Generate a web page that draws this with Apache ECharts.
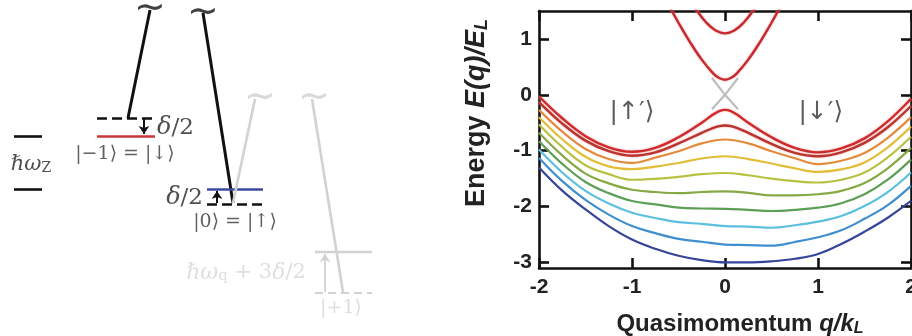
<!DOCTYPE html>
<html><head><meta charset="utf-8">
<script src="https://cdn.jsdelivr.net/npm/echarts@6/dist/echarts.min.js"></script>
<style>html,body{margin:0;padding:0;background:#fff}#c{width:912px;height:336px}</style>
</head><body><div id="c"></div>
<script>
// ---------- band-structure data (q in k_L, E in E_L) ----------
const qFine   = [-2,-1.75,-1.5,-1.25,-1,-0.75,-0.5,-0.25,-0.125,-0.0625,0,0.0625,0.125,0.25,0.5,0.75,1,1.25,1.5,1.75,2];
const qCoarse = [-2,-1.75,-1.5,-1.25,-1,-0.75,-0.5,-0.25,0,0.25,0.5,0.75,1,1.25,1.5,1.75,2];
const band0 = [-0.03,-0.42,-0.74,-0.94,-1.02,-0.95,-0.76,-0.50,-0.35,-0.29,-0.27,-0.29,-0.35,-0.50,-0.76,-0.95,-1.03,-0.96,-0.78,-0.475,-0.07];
const band1 = [-0.13,-0.515,-0.82,-1.01,-1.09,-1.03,-0.87,-0.68,-0.59,-0.56,-0.55,-0.56,-0.59,-0.68,-0.88,-1.04,-1.10,-1.03,-0.86,-0.58,-0.20];
const band2 = [-0.27,-0.66,-0.97,-1.15,-1.22,-1.125,-1.01,-0.87,-0.80,-0.87,-1.01,-1.135,-1.24,-1.18,-1.04,-0.77,-0.40];
const band3 = [-0.40,-0.795,-1.11,-1.28,-1.33,-1.285,-1.22,-1.14,-1.10,-1.15,-1.23,-1.315,-1.38,-1.335,-1.21,-0.94,-0.57];
const band4 = [-0.53,-0.935,-1.26,-1.42,-1.52,-1.505,-1.47,-1.42,-1.40,-1.44,-1.50,-1.545,-1.57,-1.52,-1.39,-1.12,-0.75];
const band5 = [-0.68,-1.085,-1.41,-1.585,-1.70,-1.74,-1.76,-1.74,-1.73,-1.755,-1.80,-1.80,-1.78,-1.72,-1.58,-1.315,-0.95];
const band6 = [-0.83,-1.235,-1.56,-1.76,-1.90,-1.96,-2.02,-2.035,-2.04,-2.06,-2.08,-2.06,-2.02,-1.94,-1.78,-1.52,-1.16];
const band7 = [-0.98,-1.39,-1.72,-1.945,-2.11,-2.205,-2.28,-2.31,-2.35,-2.36,-2.38,-2.335,-2.27,-2.17,-1.99,-1.74,-1.39];
const band8 = [-1.13,-1.545,-1.88,-2.145,-2.35,-2.475,-2.58,-2.63,-2.68,-2.69,-2.70,-2.635,-2.55,-2.425,-2.22,-1.975,-1.63];
const band9 = [-1.30,-1.715,-2.05,-2.35,-2.59,-2.755,-2.88,-2.96,-3.00,-3.00,-2.98,-2.935,-2.85,-2.67,-2.45,-2.20,-1.90];
const upperQ1 = [-0.6,-0.5,-0.375,-0.25,-0.125,-0.0625,0,0.0625,0.125,0.25,0.375,0.5,0.6];
const upperE1 = [1.59,1.29,0.94,0.63,0.38,0.30,0.27,0.30,0.38,0.63,0.94,1.29,1.59];
const upperQ2 = [-0.36,-0.3,-0.2,-0.1,0,0.1,0.2,0.3,0.36];
const upperE2 = [1.67,1.50,1.29,1.15,1.10,1.15,1.29,1.50,1.67];
const crossQ  = [-0.14,0,0.14];
const crossE1 = [-0.26,0,0.30];
const crossE2 = [0.30,0,-0.26];
const xTicks = [-2,-1,0,1,2];
const yTicks = [-3,-2,-1,0,1];
const stateLabels = [['|↑′⟩',-1.0,-0.32],['|↓′⟩',1.03,-0.32]];

// ---------- level-diagram data (diagram units) ----------
const zeemanBars   = [[1.4,13.6,4.2,13.6],[1.4,18.9,4.2,18.9]];
const blackBeams   = [[15.0,1.0,12.8,11.8],[20.3,1.3,23.3,20.3]];
const redLevel     = [[9.7,13.6,15.5,13.6]];
const blueLevel    = [[20.7,18.9,26.3,18.9]];
const blackDashed  = [[9.7,11.8,15.5,11.8],[20.7,20.4,26.3,20.4]];
const blackArrows  = [[14.4,11.9,14.4,13.4],[21.7,20.3,21.7,19.1]];
const grayBeams    = [[25.5,9.9,23.3,20.3],[31.2,9.9,34.3,29.2]];
const grayLevel    = [[31.5,25.2,37.2,25.2]];
const grayDashed   = [[31.5,29.3,37.2,29.3]];
const grayArrows   = [[32.5,29.2,32.5,25.4]];
const blackTildes  = [[15.0,0.9],[20.3,1.3]];
const grayTildes   = [[26.0,9.8],[31.4,9.8]];

const bands = [band0,band1,band2,band3,band4,band5,band6,band7,band8,band9];
const bandColors = ['#cf2a2c','#b8352f','#e58a3c','#e3bd37','#b8c240','#86a944','#5e9f57','#5cbfdf','#3f8fcf','#36449a'];

const chart = echarts.init(document.getElementById('c'), null, {renderer:'canvas'});
const SANS = 'Liberation Sans, Arial, sans-serif';
const SERIF = 'DejaVu Serif, Liberation Serif, serif';
const redGlow = {shadowBlur:2, shadowColor:'rgba(240,130,130,0.8)'};

const series = [];
[crossE1, crossE2].forEach(arr => series.push({
  type:'line', xAxisIndex:0, yAxisIndex:0, data: crossQ.map((q,i)=>[q,arr[i]]),
  showSymbol:false, smooth:false, lineStyle:{color:'#bdbdbd', width:2.2}, z:2
}));
for (let k = bands.length-1; k >= 0; k--) {
  const qs = bands[k].length === qFine.length ? qFine : qCoarse;
  const red = k < 2;
  series.push({
    type:'line', xAxisIndex:0, yAxisIndex:0, data: qs.map((q,i)=>[q,bands[k][i]]),
    showSymbol:false, smooth:0.4,
    lineStyle: Object.assign({color:bandColors[k], width: red ? 2.4 : 2.2}, red ? redGlow : {}),
    z:3
  });
}
[[upperQ1,upperE1],[upperQ2,upperE2]].forEach(([qs,es]) => series.push({
  type:'line', xAxisIndex:0, yAxisIndex:0, data: qs.map((q,i)=>[q,es[i]]),
  showSymbol:false, smooth:0.4, clip:true,
  lineStyle:Object.assign({color:'#c42a30', width:2.4}, redGlow), z:3
}));
series.push({
  type:'scatter', xAxisIndex:0, yAxisIndex:0, symbolSize:0, z:5,
  data: stateLabels.map(s=>({value:[s[1],s[2]], name:s[0]})),
  label:{show:true, position:'inside', formatter:p=>p.name, fontFamily:'DejaVu Sans, sans-serif', fontSize:25, color:'#333'}
});

function segs(arr, style, arrow) {
  return {
    type:'lines', coordinateSystem:'cartesian2d', xAxisIndex:2, yAxisIndex:2, silent:true,
    polyline:false, symbol: arrow ? ['none','arrow'] : ['none','none'], symbolSize: arrow ? 8 : 0,
    lineStyle: Object.assign({opacity:1, curveness:0}, style),
    data: arr.map(s=>({coords:[[s[0],s[1]],[s[2],s[3]]]})), z:4
  };
}
series.push(segs(zeemanBars, {color:'#111', width:2.6}));
series.push(segs(blackBeams, {color:'#111', width:3}));
series.push(segs(redLevel, {color:'#c8373a', width:2.6}));
series.push(segs(blueLevel, {color:'#3d4aa0', width:2.6}));
series.push(segs(blackDashed, {color:'#111', width:2.6, type:[10,5]}));
series.push(segs(blackArrows, {color:'#111', width:2}, true));
series.push(segs(grayBeams, {color:'#d2d2d2', width:2.6}));
series.push(segs(grayLevel, {color:'#d2d2d2', width:2.4}));
series.push(segs(grayDashed, {color:'#d2d2d2', width:2.2, type:[8,5]}));
series.push(segs(grayArrows, {color:'#d2d2d2', width:1.8}, true));

function tildeSeries(arr, color) {
  return {type:'scatter', xAxisIndex:2, yAxisIndex:2, symbolSize:0, silent:true, z:5,
    data: arr.map(p=>({value:p})),
    label:{show:true, position:'inside', formatter:'∼', fontFamily:'DejaVu Sans, sans-serif', fontSize:38, color:color}};
}
series.push(tildeSeries(blackTildes, '#111'));
series.push(tildeSeries(grayTildes, '#d0d0d0'));

const mathRich = (c, sz) => ({
  i:{fontFamily:SERIF, fontStyle:'italic', fontSize:sz+1, color:c},
  r:{fontFamily:SERIF, fontSize:sz, color:c},
  s:{fontFamily:SERIF, fontSize:Math.round(sz*0.7), color:c, verticalAlign:'bottom', lineHeight:12, padding:[10,0,0,0]}
});
const diagramLabels = [
  {value:[3.1,16.5], text:'{i|ℏω}{s|Z}', pos:'inside', c:'#222', sz:20},
  {value:[15.7,12.8], text:'{i|δ}{r|/2}', pos:'right', c:'#222', sz:23},
  {value:[12.5,15.4], text:'{r||−1⟩ = |↓⟩}', pos:'inside', c:'#3a3a3a', sz:19},
  {value:[20.3,19.8], text:'{i|δ}{r|/2}', pos:'left', c:'#222', sz:23},
  {value:[23.5,22.2], text:'{r||0⟩ = |↑⟩}', pos:'inside', c:'#3a3a3a', sz:19},
  {value:[24.6,27.3], text:'{i|ℏω}{s|q}{r| + 3}{i|δ}{r|/2}', pos:'inside', c:'#d6d6d6', sz:21},
  {value:[34.1,30.8], text:'{r||+1⟩}', pos:'inside', c:'#d6d6d6', sz:19}
];
series.push({
  type:'scatter', xAxisIndex:2, yAxisIndex:2, symbolSize:0, silent:true, z:5,
  data: diagramLabels.map(d=>({value:d.value, label:{show:true, position:d.pos, distance:0,
      formatter:d.text, rich:mathRich(d.c, d.sz)}}))
});

const axisLine = {show:true, onZero:false, lineStyle:{color:'#111', width:2.6}};
const tick = (vals) => ({show:true, inside:true, length:10, lineStyle:{color:'#111', width:2.6}, customValues: vals});
const tickLabel = {fontFamily:SANS, fontSize:21, fontWeight:'bold', color:'#222'};
const nameRich = (sz) => ({
  i:{fontFamily:SANS, fontSize:sz, fontWeight:'bold', fontStyle:'italic', color:'#222', lineHeight:sz+2},
  s:{fontFamily:SANS, fontSize:Math.round(sz*0.66), fontWeight:'bold', fontStyle:'italic', color:'#222', verticalAlign:'bottom', lineHeight:16, padding:[Math.round(sz*0.55),0,0,0]}
});

chart.setOption({
  animation:false,
  backgroundColor:'#fff',
  grid:[
    {left:539, top:11, width:372, height:257, show:false, outerBoundsMode:'none', containLabel:false},
    {left:0, top:0, width:460, height:336, show:false, outerBoundsMode:'none', containLabel:false}
  ],
  xAxis:[
    {type:'value', gridIndex:0, position:'bottom', min:-2, max:2, interval:1,
     axisLine, axisTick:tick(xTicks), splitLine:{show:false},
     axisLabel:Object.assign({margin:9, customValues:xTicks}, tickLabel),
     name:'Quasimomentum {i|q/k}{s|L}', nameLocation:'middle', nameGap:43,
     nameTextStyle:{fontFamily:SANS, fontSize:24, fontWeight:'bold', color:'#222', rich:nameRich(24), padding:[0,0,0,30]}},
    {type:'value', gridIndex:0, position:'top', min:-2, max:2, interval:1,
     axisLine, axisTick:tick(xTicks), axisLabel:{show:false}, splitLine:{show:false}},
    {type:'value', gridIndex:1, min:0, max:46, show:false}
  ],
  yAxis:[
    {type:'value', gridIndex:0, position:'left', min:-3.1, max:1.5,
     axisLine, axisTick:tick(yTicks), splitLine:{show:false},
     axisLabel:Object.assign({margin:7, customValues:yTicks}, tickLabel),
     name:'Energy {i|E(q)/E}{s|L}', nameLocation:'middle', nameGap:48, nameRotate:90,
     nameTextStyle:{fontFamily:SANS, fontSize:27, fontWeight:'bold', color:'#222', rich:nameRich(27), padding:[0,0,0,53]}},
    {type:'value', gridIndex:0, position:'right', min:-3.1, max:1.5,
     axisLine, axisTick:tick(yTicks), axisLabel:{show:false}, splitLine:{show:false}},
    {type:'value', gridIndex:1, min:0, max:33.6, inverse:true, show:false}
  ],
  series
});
</script></body></html>
